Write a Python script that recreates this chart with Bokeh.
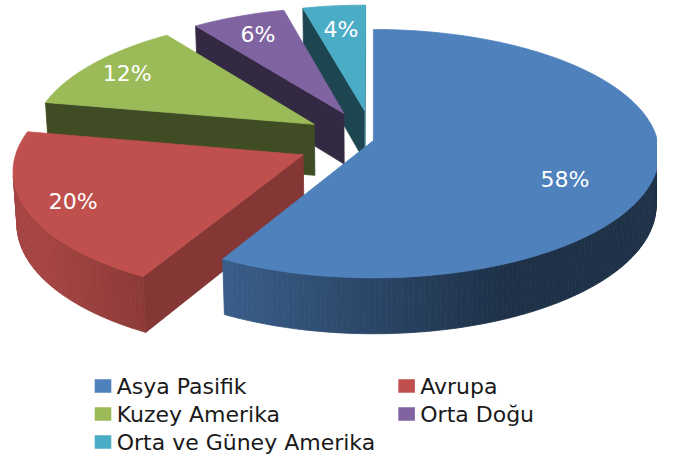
import numpy as np
from bokeh.plotting import figure
from bokeh.models import Range1d
from bokeh.embed import file_html
from bokeh.resources import INLINE
from bokeh.core.properties import value

# ---------------- data ----------------
categories = ["Asya Pasifik", "Avrupa", "Kuzey Amerika", "Orta Doğu", "Orta ve Güney Amerika"]
shares = [58, 20, 12, 6, 4]
labels = ["58%", "20%", "12%", "6%", "4%"]
top_colors = ["#4F81BD", "#C0504D", "#9BBB59", "#8064A2", "#4BACC6"]
explode = [0.0, 0.27, 0.25, 0.25, 0.25]

# ---------------- 3D projection ----------------
IMG_W, IMG_H = 673, 472
CX, CY = 382.0, 145.0
FOC = 2488.0
DIST = 8.55
PHI = np.radians(25.9)
DEPTH = 0.206
CAM = np.array([0.0, -DIST * np.cos(PHI), DIST * np.sin(PHI)])

# label placement inside each slice (angle shift in degrees, radius fraction)
label_shift = [10.6, 0.0, 0.0, 0.0, 0.0]
label_rad = [0.72, 0.84, 0.84, 0.8, 0.76]


def proj(X, Y, Z):
    X = np.asarray(X, float)
    Y = np.asarray(Y, float)
    Z = np.asarray(Z, float)
    v = Y * np.sin(PHI) + Z * np.cos(PHI)
    d = DIST + Y * np.cos(PHI) - Z * np.sin(PHI)
    return CX + FOC * X / d, CY - FOC * v / d


def hex2rgb(h):
    h = h.lstrip("#")
    return np.array([int(h[i:i + 2], 16) for i in (0, 2, 4)], float)


def shade(h, f):
    c = np.clip(hex2rgb(h) * f, 0, 255).astype(int)
    return "#%02x%02x%02x" % tuple(c)


def visible(n, p):
    return float(np.dot(n, CAM - p)) > 1e-6


total = float(sum(shares))
starts = []
acc = 0.0
for s in shares:
    starts.append(acc)
    acc += s / total * 360.0

xs_all, ys_all, cols = [], [], []
label_pts = []

order = list(range(len(shares)))[::-1]  # back to front
for i in order:
    ts = starts[i]
    te = ts + shares[i] / total * 360.0
    mid = np.radians((ts + te) / 2)
    ox, oy = explode[i] * np.sin(mid), explode[i] * np.cos(mid)
    base = top_colors[i]

    # radial cut faces
    for ang, sgn in ((ts, -1), (te, 1)):
        a = np.radians(ang)
        n = np.array([sgn * np.cos(a), -sgn * np.sin(a), 0.0])
        p = np.array([ox + 0.5 * np.sin(a), oy + 0.5 * np.cos(a), -DEPTH / 2])
        if visible(n, p):
            X = [ox, ox + np.sin(a), ox + np.sin(a), ox]
            Y = [oy, oy + np.cos(a), oy + np.cos(a), oy]
            Z = [0, 0, -DEPTH, -DEPTH]
            px, py = proj(X, Y, Z)
            f = 0.69 if n[0] > 0 else 0.41
            xs_all.append(list(px)); ys_all.append(list(py)); cols.append(shade(base, f))

    # outer curved side
    nseg = max(4, int((te - ts) / 1.0))
    angs = np.radians(np.linspace(ts, te, nseg + 1))
    for k in range(nseg):
        a0, a1 = angs[k], angs[k + 1]
        am = (a0 + a1) / 2
        n = np.array([np.sin(am), np.cos(am), 0.0])
        p = np.array([ox + np.sin(am), oy + np.cos(am), -DEPTH / 2])
        if not visible(n, p):
            continue
        X = [ox + np.sin(a0), ox + np.sin(a1), ox + np.sin(a1), ox + np.sin(a0)]
        Y = [oy + np.cos(a0), oy + np.cos(a1), oy + np.cos(a1), oy + np.cos(a0)]
        Z = [0, 0, -DEPTH, -DEPTH]
        px, py = proj(X, Y, Z)
        f = float(np.clip(0.73 - 0.39 * (np.sin(am) + 0.48), 0.38, 0.86))
        xs_all.append(list(px)); ys_all.append(list(py)); cols.append(shade(base, f))

    # top face
    arc = np.radians(np.linspace(ts, te, int(te - ts) * 2 + 2))
    X = np.concatenate([[ox], ox + np.sin(arc)])
    Y = np.concatenate([[oy], oy + np.cos(arc)])
    Z = np.zeros_like(X)
    px, py = proj(X, Y, Z)
    xs_all.append(list(px)); ys_all.append(list(py)); cols.append(base)

    # label anchor
    la = np.radians((ts + te) / 2 + label_shift[i])
    lr = label_rad[i]
    lx, ly = proj([ox + lr * np.sin(la)], [oy + lr * np.cos(la)], [0.0])
    label_pts.append((float(lx[0]), float(ly[0]), labels[i]))

# ---------------- figure ----------------
p = figure(width=657, height=456, output_backend="svg", toolbar_location=None,
           x_range=Range1d(0, IMG_W), y_range=Range1d(IMG_H, 0),
           min_border=0, background_fill_color="white", border_fill_color="white")
p.axis.visible = False
p.grid.visible = False
p.outline_line_color = None

p.patches(xs_all, ys_all, fill_color=cols, line_color=cols, line_width=0.8)

p.text(x=[t[0] for t in label_pts], y=[t[1] for t in label_pts], text=[t[2] for t in label_pts],
       text_color="white", text_font=value("DejaVu Sans"), text_font_size="22px",
       text_align="center", text_baseline="middle")

# ---------------- legend ----------------
col_x = [105, 416]
row_y = [399, 428, 457]
leg_pos = [(0, 0), (1, 0), (0, 1), (1, 1), (0, 2)]
sq_x = [col_x[c] for c, r in leg_pos]
sq_y = [row_y[r] for c, r in leg_pos]
p.rect(x=sq_x, y=sq_y, width=17, height=14, fill_color=top_colors, line_color=None)
p.text(x=[x + 14 for x in sq_x], y=[y + 1 for y in sq_y], text=categories,
       text_color="#1a1a1a", text_font=value("DejaVu Sans"), text_font_size="22px",
       text_align="left", text_baseline="middle")

open("out.html", "w").write(file_html(p, INLINE))
